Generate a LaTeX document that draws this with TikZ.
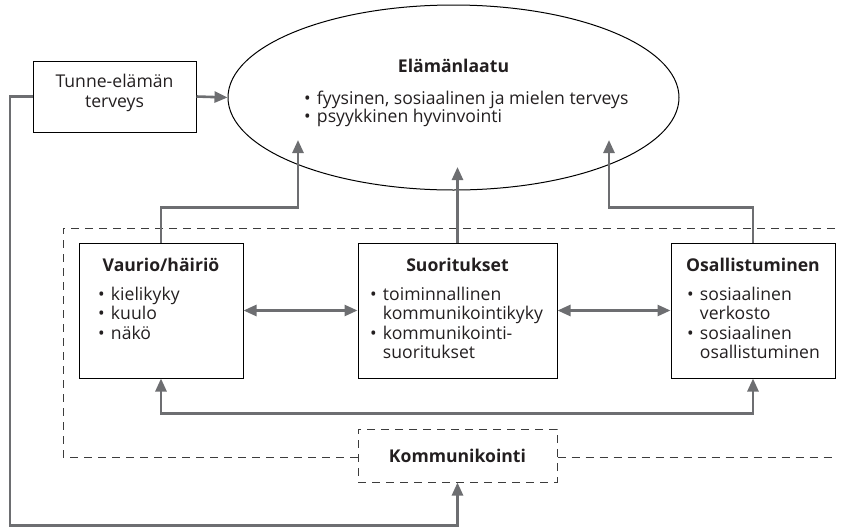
\documentclass[tikz,border=0pt]{standalone}
\usepackage{fontspec}
\setmainfont{Open Sans}
\usetikzlibrary{arrows.meta,shapes.geometric}
\definecolor{lg}{HTML}{6D6E71}
\definecolor{dg}{HTML}{3C3C3C}
\definecolor{tx}{HTML}{231F20}
\newcommand{\bul}{•\hspace{0.35em}}
\newcommand{\nobul}{\phantom{•}\hspace{0.35em}}
\begin{document}
\begin{tikzpicture}[x=1pt,y=-1pt,
  box/.style={draw=black, line width=1pt, inner sep=0pt},
  tip/.tip={Triangle[length=13pt,width=11pt]},
  conn/.style={draw=lg, line width=2.6pt, -tip},
  conn2/.style={draw=lg, line width=2.6pt, tip-tip},
  dsh/.style={draw=dg, line width=1pt, dash pattern=on 8pt off 6pt},
  txt/.style={font=\fontsize{17.6}{20}\selectfont, text=tx, inner sep=0pt},
  ttl/.style={font=\fontsize{17.6}{20}\selectfont\bfseries, text=tx, inner sep=0pt},
  ln/.style={txt, anchor=base west},
]
\useasboundingbox (0,0) rectangle (844,528);

% main shapes
\node[box, ellipse, minimum width=451pt, minimum height=185pt] (qol) at (453.5,97.5) {};
\node[box, minimum width=163pt, minimum height=71pt] (tunne) at (114.5,96.5) {};
\node[box, minimum width=164pt, minimum height=135pt] (vaurio) at (161,310.5) {};
\node[box, minimum width=199pt, minimum height=135pt] (suor) at (457.5,310.5) {};
\node[box, minimum width=164pt, minimum height=135pt] (osal) at (753,310.5) {};
\node[dsh, minimum width=199pt, minimum height=53pt, inner sep=0pt] (komm) at (457.5,455.5) {};

% texts
\node[txt, align=center] (tunnetxt) at (114.5,93) {Tunne-elämän\\terveys};
\node[ttl] (qolt) at (453.5,66) {Elämänlaatu};
\node[ln] (q1) at (304,104) {\bul fyysinen, sosiaalinen ja mielen terveys};
\node[ln] (q2) at (304,122) {\bul psyykkinen hyvinvointi};

\node[ttl] (vt) at (161,265) {Vaurio/häiriö};
\node[ln] (v1) at (98,300) {\bul kielikyky};
\node[ln] (v2) at (98,319.5) {\bul kuulo};
\node[ln] (v3) at (98,339) {\bul näkö};

\node[ttl] (st) at (457.5,265) {Suoritukset};
\node[ln] (s1) at (370,300) {\bul toiminnallinen};
\node[ln] (s2) at (370,319.5) {\nobul kommunikointikyky};
\node[ln] (s3) at (370,339) {\bul kommunikointi-};
\node[ln] (s4) at (370,358.5) {\nobul suoritukset};

\node[ttl] (ot) at (753,265) {Osallistuminen};
\node[ln] (o1) at (687,300) {\bul sosiaalinen};
\node[ln] (o2) at (687,319.5) {\nobul verkosto};
\node[ln] (o3) at (687,339) {\bul sosiaalinen};
\node[ln] (o4) at (687,358.5) {\nobul osallistuminen};

\node[ttl] (kt) at (457.5,456) {Kommunikointi};

% dashed frame (open at right)
\coordinate (fr1) at (835,228);
\coordinate (fr2) at (63,228);
\coordinate (fr3) at (63,457);
\coordinate (fr4) at (835,457);
\draw[dsh] (fr1) -- (fr2) -- (fr3) -- (fr3 -| komm.west);
\draw[dsh] (fr4 -| komm.east) -- (fr4);

% connectors
\coordinate (t1) at (298,140);
\coordinate (t2) at (457.5,167);
\coordinate (t3) at (609,140);
\draw[conn] (tunne.east) -- (qol.west);
\draw[conn] (vaurio.north) -- ++(0,-35) -| (t1);
\draw[conn] (suor.north) -- (t2);
\draw[conn] (osal.north) -- ++(0,-35) -| (t3);
\draw[conn2] (vaurio.east) -- (suor.west);
\draw[conn2] (suor.east) -- (osal.west);
\draw[conn2] (vaurio.south) -- ++(0,35) -| (osal.south);
\coordinate (c1) at (10,96.5);
\coordinate (c2) at (10,525.5);
\draw[conn] (tunne.west) -- (c1) -- (c2) -| (komm.south);
\end{tikzpicture}
\end{document}
